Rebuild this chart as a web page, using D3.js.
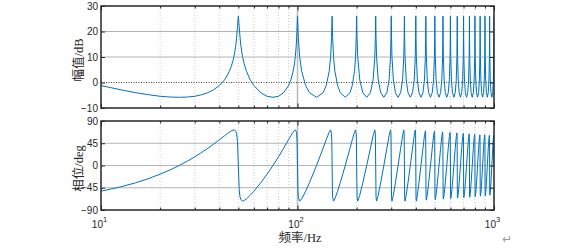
<!DOCTYPE html>
<html><head><meta charset="utf-8">
<script src="https://cdn.jsdelivr.net/npm/d3@7/dist/d3.min.js"></script>
<style>
html,body{margin:0;padding:0;background:#fff;}
svg{display:block;}
</style></head>
<body>
<svg id="chart" width="565" height="249"></svg>
<script>
// ---- data (frequency Hz, magnitude dB, phase deg) ----
const freqHz = [
  10,12.5,15,17.5,20,22.5,25,27.5,30,32.5,35,37.5,40,42.5,44,45,46,47,47.5,48,48.5,49,49.5,50,
  50.5,51,51.5,52.5,53.5,55,57.5,60,65,70,75,80,85,90,92.5,95,96.5,97.5,98.5,99,99.5,100,
  100.5,101,102.5,105,110,115,125,135,140,145,147.5,149,149.5,150,
  150.5,151,152.5,155,160,165,175,185,190,195,197.5,199,199.5,200,
  201,202.5,207.5,215,225,235,242.5,247.5,249,250,
  251,252.5,257.5,265,275,285,292.5,297.5,299,300,
  301,302.5,307.5,315,325,335,342.5,347.5,349,350,
  351,352.5,357.5,365,375,385,392.5,397.5,399,400,
  401,402.5,407.5,415,425,435,442.5,447.5,449,450,
  451,452.5,457.5,465,475,485,492.5,497.5,499,500,
  501,502.5,507.5,515,525,535,542.5,547.5,549,550,
  551,552.5,557.5,565,575,585,592.5,597.5,599,600,
  601,602.5,607.5,615,625,635,642.5,647.5,649,650,
  651,652.5,657.5,665,675,685,692.5,697.5,699,700,
  701,702.5,707.5,715,725,735,742.5,747.5,749,750,
  751,752.5,757.5,765,775,785,792.5,797.5,799,800,
  801,802.5,807.5,815,825,835,842.5,847.5,849,850,
  851,852.5,857.5,865,875,885,892.5,897.5,899,900,
  901,902.5,907.5,915,925,935,942.5,947.5,949,950,
  951,952.5,957.5,965,975,985,992.5,997.5,999,1000
];
const magDb = [
  -1.2,-2.8,-4.0,-4.8,-5.4,-5.7,-5.8,-5.7,-5.4,-4.8,-4.0,-2.8,-1.2,1.0,2.9,4.4,6.2,8.7,10.2,12.1,14.4,17.6,22.0,26.0,
  22.0,17.6,14.4,10.2,7.4,4.4,1.0,-1.2,-4.0,-5.4,-5.8,-5.4,-4.0,-1.2,1.0,4.4,7.4,10.2,14.4,17.6,22.0,26.0,
  22.0,17.6,10.2,4.4,-1.2,-4.0,-5.8,-4.0,-1.2,4.4,10.2,17.6,22.0,26.0,
  22.0,17.6,10.2,4.4,-1.2,-4.0,-5.8,-4.0,-1.2,4.4,10.2,17.6,22.0,26.0,
  17.6,10.2,1.0,-4.0,-5.8,-4.0,1.0,10.2,17.6,26.0,
  17.6,10.2,1.0,-4.0,-5.8,-4.0,1.0,10.2,17.6,26.0,
  17.6,10.2,1.0,-4.0,-5.8,-4.0,1.0,10.2,17.6,26.0,
  17.6,10.2,1.0,-4.0,-5.8,-4.0,1.0,10.2,17.6,26.0,
  17.6,10.2,1.0,-4.0,-5.8,-4.0,1.0,10.2,17.6,26.0,
  17.6,10.2,1.0,-4.0,-5.8,-4.0,1.0,10.2,17.6,26.0,
  17.6,10.2,1.0,-4.0,-5.8,-4.0,1.0,10.2,17.6,26.0,
  17.6,10.2,1.0,-4.0,-5.8,-4.0,1.0,10.2,17.6,26.0,
  17.6,10.2,1.0,-4.0,-5.8,-4.0,1.0,10.2,17.6,26.0,
  17.6,10.2,1.0,-4.0,-5.8,-4.0,1.0,10.2,17.6,26.0,
  17.6,10.2,1.0,-4.0,-5.8,-4.0,1.0,10.2,17.6,26.0,
  17.6,10.2,1.0,-4.0,-5.8,-4.0,1.0,10.2,17.6,26.0,
  17.6,10.2,1.0,-4.0,-5.8,-4.0,1.0,10.2,17.6,26.0,
  17.6,10.2,1.0,-4.0,-5.8,-4.0,1.0,10.2,17.6,26.0,
  17.6,10.2,1.0,-4.0,-5.8,-4.0,1.0,10.2,17.6,26.0,
  17.6,10.2,1.0,-4.0,-5.8,-4.0,1.0,10.2,17.6,26.0
];
const phaseDeg = [
  -52,-43.5,-35,-26.3,-17.5,-8.8,0,8.8,17.5,26.3,35,43.5,52,60,64.7,67.5,69.9,71.5,72,71.3,69.4,64.2,49,0,
  -49,-64,-69,-72,-71,-67.5,-60,-52,-35,-17.5,0,17.5,35,52,60,67.5,71,72,69,64,49,0,
  -49,-64,-72,-67.5,-52,-35,0,35,52,67.5,72,64,49,0,
  -49,-64,-72,-67.5,-52,-35,0,35,52,67.5,72,64,49,0,
  -64,-72,-60,-35,0,35,60,72,64,0,
  -64,-72,-60,-35,0,35,60,72,64,0,
  -64,-72,-60,-35,0,35,60,72,64,0,
  -64,-72,-60,-35,0,35,60,72,64,0,
  -64,-72,-60,-35,0,35,60,70,64,0,
  -64,-70,-60,-35,0,35,60,69,63,0,
  -63,-69,-59,-35,0,35,59,68,62,0,
  -62,-68,-59,-35,0,35,59,67,61,0,
  -61,-67,-58,-35,0,35,58,66,60,0,
  -60,-66,-58,-35,0,35,58,65,59,0,
  -59,-65,-57,-35,0,35,57,64,58,0,
  -58,-64,-57,-35,0,35,57,63,57,0,
  -57,-63,-56,-35,0,35,56,62,56,0,
  -56,-62,-56,-35,0,35,56,62,56,0,
  -55,-61,-55,-35,0,35,55,61,55,0,
  -55,-60,-55,-35,0,35,55,61,55,0
];
const xMajorTicks = [10, 100, 1000];
const xMajorExp = ["1", "2", "3"];
const xMinorTicks = [20,30,40,50,60,70,80,90,200,300,400,500,600,700,800,900];
const magTicks = [-10, 0, 10, 20, 30];
const phaseTicks = [-90, -45, 0, 45, 90];
const magLabel = "幅值/dB";
const phaseLabel = "相位/deg";
const freqLabel = "频率/Hz";

// ---- layout ----
const svg = d3.select("#chart");
const L = 101, R = 494;
const x = d3.scaleLog().domain([10, 1000]).range([L, R]);
const yMag = d3.scaleLinear().domain([-10, 30]).range([108, 6]);
const yPh = d3.scaleLinear().domain([-90, 90]).range([210, 121]);

const axisColor = "#262626";
const latinFont = "'Liberation Sans', Arial, sans-serif";
const cjkFont = "'Liberation Serif', 'Noto Sans CJK SC', serif";
const lineColor = "#0072BD";

const pts = freqHz.map((f, i) => ({f, m: magDb[i], p: phaseDeg[i]}));

function panel(y, ticks, valueKey, label, id, zeroDotted) {
  const top = y.range()[1], bot = y.range()[0];
  const g = svg.append("g");
  g.selectAll(".xminor").data(xMinorTicks).join("line")
    .attr("x1", d => x(d)).attr("x2", d => x(d))
    .attr("y1", top).attr("y2", bot)
    .attr("stroke", "#cdcdcd").attr("stroke-width", 1)
    .attr("stroke-dasharray", "1,2");
  g.selectAll(".xmajor").data(xMajorTicks.slice(1, -1)).join("line")
    .attr("x1", d => x(d)).attr("x2", d => x(d))
    .attr("y1", top).attr("y2", bot)
    .attr("stroke", "#b8b8b8").attr("stroke-width", 1.5);
  const inner = ticks.slice(1, -1);
  g.selectAll(".ygrid").data(inner).join("line")
    .attr("x1", L).attr("x2", R)
    .attr("y1", d => y(d)).attr("y2", d => y(d))
    .attr("stroke", d => (zeroDotted && d === 0) ? "#444" : "#b4b4b4")
    .attr("stroke-width", 1)
    .attr("stroke-dasharray", d => (zeroDotted && d === 0) ? "1,1.5" : null);

  svg.append("clipPath").attr("id", id)
    .append("rect").attr("x", L).attr("y", top).attr("width", R - L).attr("height", bot - top);
  const line = d3.line().x(d => x(d.f)).y(d => y(d[valueKey]));
  svg.append("path").datum(pts)
    .attr("clip-path", `url(#${id})`)
    .attr("d", line)
    .attr("fill", "none").attr("stroke", lineColor).attr("stroke-width", 1)
    .attr("stroke-linejoin", "round");

  const ax = svg.append("g").attr("font-family", latinFont);
  const left = d3.axisLeft(y).tickValues(ticks).tickSize(-4).tickPadding(3).tickFormat(d3.format("d"));
  ax.append("g").attr("transform", `translate(${L},0)`).call(left)
    .call(s => s.select(".domain").remove())
    .call(s => s.selectAll("text").attr("font-size", 10).attr("fill", axisColor))
    .call(s => s.selectAll("line").attr("stroke", axisColor));
  const right = d3.axisRight(y).tickValues(ticks).tickSize(-4).tickFormat("");
  ax.append("g").attr("transform", `translate(${R},0)`).call(right)
    .call(s => s.select(".domain").remove())
    .call(s => s.selectAll("line").attr("stroke", axisColor));
  for (const [pos, orient] of [[bot, d3.axisBottom], [top, d3.axisTop]]) {
    ax.append("g").attr("transform", `translate(0,${pos})`)
      .call(orient(x).tickValues(xMajorTicks).tickSize(-4.5).tickFormat(""))
      .call(s => s.select(".domain").remove())
      .call(s => s.selectAll("line").attr("stroke", axisColor));
    ax.append("g").attr("transform", `translate(0,${pos})`)
      .call(orient(x).tickValues(xMinorTicks).tickSize(-2.5).tickFormat(""))
      .call(s => s.select(".domain").remove())
      .call(s => s.selectAll("line").attr("stroke", axisColor));
  }
  svg.append("rect").attr("x", L).attr("y", top).attr("width", R - L).attr("height", bot - top)
    .attr("fill", "none").attr("stroke", axisColor).attr("stroke-width", 1.5);

  svg.append("text")
    .attr("transform", `translate(79,${(top + bot) / 2 + 3}) rotate(-90)`)
    .attr("text-anchor", "middle").attr("dominant-baseline", "central")
    .attr("font-family", cjkFont).attr("font-size", 12.5).attr("fill", axisColor)
    .text(label);
}

panel(yMag, magTicks, "m", magLabel, "clipMag", true);
panel(yPh, phaseTicks, "p", phaseLabel, "clipPh", false);

const xl = svg.append("g").attr("font-family", latinFont).attr("fill", axisColor);
xMajorTicks.forEach((t, i) => {
  const tx = xl.append("text").attr("x", x(t) - 1.5).attr("y", 228)
    .attr("text-anchor", "middle").attr("font-size", 10);
  tx.append("tspan").text("10");
  tx.append("tspan").attr("dy", -6).attr("font-size", 7.5).text(xMajorExp[i]);
});

svg.append("text").attr("x", 300).attr("y", 241.5).attr("text-anchor", "middle")
  .attr("font-family", cjkFont).attr("font-size", 12.5).attr("fill", axisColor)
  .text(freqLabel);

svg.append("text").attr("x", 507).attr("y", 243).attr("text-anchor", "middle")
  .attr("font-family", "'DejaVu Sans', sans-serif").attr("font-size", 12).attr("fill", "#9a9a9a")
  .text("↵");
</script>
</body></html>
